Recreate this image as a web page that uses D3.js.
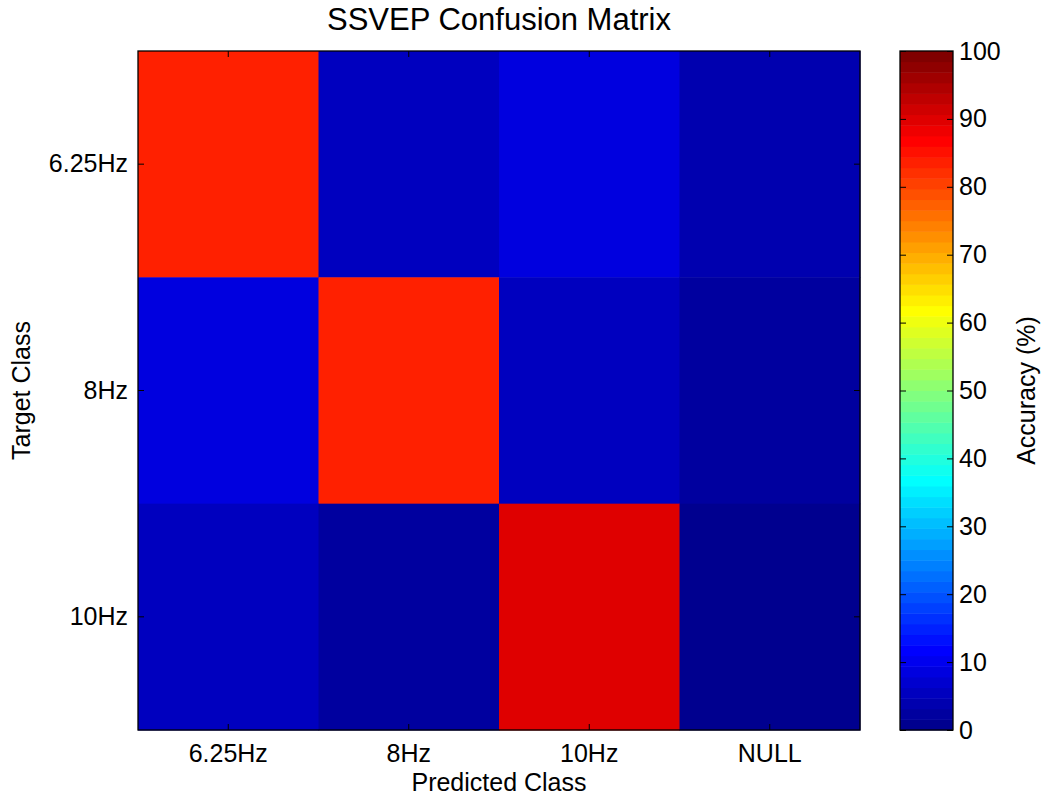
<!DOCTYPE html>
<html>
<head>
<meta charset="utf-8">
<script src="https://cdn.jsdelivr.net/npm/d3@7"></script>
<style>
  html, body { margin: 0; padding: 0; background: #fff; }
  svg { display: block; font-family: "Liberation Sans", Arial, Helvetica, sans-serif; }
</style>
</head>
<body>
<svg id="chart" width="1043" height="799"></svg>
<script>
// ---- data ----
const predictedClasses = ["6.25Hz", "8Hz", "10Hz", "NULL"];
const targetClasses = ["6.25Hz", "8Hz", "10Hz"];
const row625 = [83.3, 5.0, 8.3, 3.3];
const row8 = [8.3, 83.3, 6.0, 1.7];
const row10 = [6.0, 1.7, 90.0, 0.0];
const accuracyRows = [row625, row8, row10];
const colorbarTicks = [0, 10, 20, 30, 40, 50, 60, 70, 80, 90, 100];

// ---- MATLAB jet(64) colormap ----
function jetMap(m) {
  const n = Math.ceil(m / 4);
  const u = [];
  for (let i = 1; i <= n; i++) u.push(i / n);
  for (let i = 1; i < n; i++) u.push(1);
  for (let i = n; i >= 1; i--) u.push(i / n);
  const gOff = Math.ceil(n / 2) - (m % 4 === 1 ? 1 : 0);
  const map = Array.from({length: m}, () => [0, 0, 0]);
  u.forEach((val, k) => {
    const g = gOff + k + 1, r = g + n, b = g - n;
    if (r >= 1 && r <= m) map[r - 1][0] = val;
    if (g >= 1 && g <= m) map[g - 1][1] = val;
    if (b >= 1 && b <= m) map[b - 1][2] = val;
  });
  return map.map(c => d3.rgb(Math.round(c[0] * 255), Math.round(c[1] * 255), Math.round(c[2] * 255)).formatHex());
}
const jet = jetMap(64);
const colorIndex = d3.scaleQuantize().domain([0, 100]).range(d3.range(64));
const color = v => jet[colorIndex(Math.min(99.999, Math.max(0, v)))];

// ---- layout ----
const svg = d3.select("#chart");
const L = 138, R = 860, T = 51, B = 730;
const cbL = 900, cbR = 953;
const FONT = '"Liberation Sans", Arial, sans-serif';
const LABEL_SIZE = "25px";

const x = d3.scaleBand().domain(predictedClasses).range([L, R]).padding(0);
const y = d3.scaleBand().domain(targetClasses).range([T, B]).padding(0);

const cells = [];
accuracyRows.forEach((row, i) => row.forEach((v, j) => cells.push({t: targetClasses[i], p: predictedClasses[j], v})));

svg.append("g").selectAll("rect").data(cells).join("rect")
  .attr("x", d => x(d.p)).attr("y", d => y(d.t))
  .attr("width", x.bandwidth() + 0.5).attr("height", y.bandwidth() + 0.5)
  .attr("fill", d => color(d.v));

// axes
const tickLen = 6;
const axB = svg.append("g").attr("transform", `translate(0,${B})`)
  .call(d3.axisBottom(x).tickSize(-tickLen).tickPadding(14));
const axT = svg.append("g").attr("transform", `translate(0,${T})`)
  .call(d3.axisTop(x).tickSize(-tickLen).tickFormat(""));
const axL = svg.append("g").attr("transform", `translate(${L},0)`)
  .call(d3.axisLeft(y).tickSize(-tickLen).tickPadding(10));
const axR = svg.append("g").attr("transform", `translate(${R},0)`)
  .call(d3.axisRight(y).tickSize(-tickLen).tickFormat(""));
[axB, axT, axL, axR].forEach(a => {
  a.select(".domain").remove();
  a.selectAll(".tick line").attr("stroke", "#000").attr("stroke-width", 1);
  a.selectAll("text").attr("fill", "#000").style("font-size", LABEL_SIZE).style("font-family", FONT);
});
axB.selectAll("text").attr("dy", "0.71em");

svg.append("rect").attr("x", L).attr("y", T).attr("width", R - L).attr("height", B - T)
  .attr("fill", "none").attr("stroke", "#000").attr("stroke-width", 1.3);

// colorbar
const cy = d3.scaleLinear().domain([0, 100]).range([B, T]);
svg.append("g").selectAll("rect").data(d3.range(64)).join("rect")
  .attr("x", cbL).attr("width", cbR - cbL)
  .attr("y", i => cy((i + 1) * 100 / 64))
  .attr("height", i => cy(i * 100 / 64) - cy((i + 1) * 100 / 64) + 0.5)
  .attr("fill", i => jet[i]);
const cbAxR = svg.append("g").attr("transform", `translate(${cbR},0)`)
  .call(d3.axisRight(cy).tickValues(colorbarTicks).tickSize(-tickLen).tickPadding(6));
const cbAxL = svg.append("g").attr("transform", `translate(${cbL},0)`)
  .call(d3.axisLeft(cy).tickValues(colorbarTicks).tickSize(-tickLen).tickFormat(""));
[cbAxR, cbAxL].forEach(a => {
  a.select(".domain").remove();
  a.selectAll(".tick line").attr("stroke", "#000");
  a.selectAll("text").attr("fill", "#000").style("font-size", LABEL_SIZE).style("font-family", FONT);
});
svg.append("rect").attr("x", cbL).attr("y", T).attr("width", cbR - cbL).attr("height", B - T)
  .attr("fill", "none").attr("stroke", "#000").attr("stroke-width", 1.3);

// titles
svg.append("text").attr("x", (L + R) / 2).attr("y", 30).attr("text-anchor", "middle")
  .style("font-size", "31px").style("font-family", FONT).attr("fill", "#000").text("SSVEP Confusion Matrix");
svg.append("text").attr("x", (L + R) / 2).attr("y", 791).attr("text-anchor", "middle")
  .style("font-size", LABEL_SIZE).style("font-family", FONT).attr("fill", "#000").text("Predicted Class");
svg.append("text").attr("transform", `translate(30,${(T + B) / 2}) rotate(-90)`)
  .attr("text-anchor", "middle").style("font-size", LABEL_SIZE).style("font-family", FONT).attr("fill", "#000").text("Target Class");
svg.append("text").attr("transform", `translate(1035,${(T + B) / 2}) rotate(-90)`)
  .attr("text-anchor", "middle").style("font-size", LABEL_SIZE).style("font-family", FONT).attr("fill", "#000").text("Accuracy (%)");
</script>
</body>
</html>
